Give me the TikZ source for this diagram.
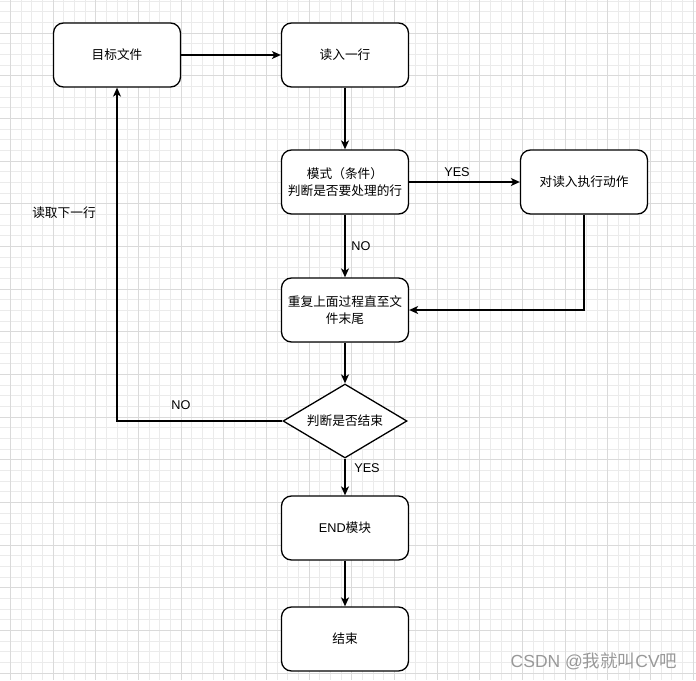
\documentclass[tikz,border=0pt]{standalone}
\usepackage{fontspec}
\setmainfont{Liberation Sans}
\newfontfamily\cjk{Noto Sans CJK SC}
\usetikzlibrary{shapes.geometric,arrows.meta}
\definecolor{gridminor}{HTML}{EBEBEB}
\definecolor{gridmajor}{HTML}{DADADA}
\tikzset{
  box/.style={draw=black, line width=1.3pt, rounded corners=10pt, fill=white,
    minimum width=127pt, minimum height=64pt, inner sep=2pt, align=center,
    font=\cjk\fontsize{12.7}{17}\selectfont},
  decide/.style={draw=black, line width=1.3pt, diamond, fill=white, aspect=1.676,
    minimum width=124pt, minimum height=74pt, inner sep=0pt,
    font=\cjk\fontsize{12.7}{17}\selectfont},
  conn/.style={line width=1.3pt, -{Stealth[length=9pt,width=8pt,inset=2.5pt]}},
  lbl/.style={inner sep=0pt, font=\fontsize{12.7}{15}\selectfont},
  cjklbl/.style={inner sep=0pt, font=\cjk\fontsize{12.7}{15}\selectfont},
}
\begin{document}
\begin{tikzpicture}[x=1pt,y=-1pt]
\useasboundingbox (0,0) rectangle (696,680);
\fill[white] (0,0) rectangle (696,680);
% grid
\foreach \i in {-4,...,61} {
  \draw[gridminor, line width=0.8pt] ({53+10.6667*\i},0) -- ({53+10.6667*\i},680);
}
\foreach \j in {-3,...,61} {
  \draw[gridminor, line width=0.8pt] (0,{33+10.6667*\j}) -- (696,{33+10.6667*\j});
}
\foreach \i in {-1,...,15} {
  \draw[gridmajor, line width=0.9pt] ({53+42.6667*\i},0) -- ({53+42.6667*\i},680);
}
\foreach \j in {-1,...,16} {
  \draw[gridmajor, line width=0.9pt] (0,{33+42.6667*\j}) -- (696,{33+42.6667*\j});
}
% nodes
\node[box] (f) at (117,55) {目标文件};
\node[box] (r) at (345,55) {读入一行};
\node[box] (m) at (345,182) {模式（条件）\\判断是否要处理的行};
\node[box] (a) at (584,182) {对读入执行动作};
\node[box] (rep) at (345,310) {重复上面过程直至文\\件末尾};
\node[decide] (d) at (345,421) {判断是否结束};
\node[box] (e) at (345,528) {{\rmfamily END}模块};
\node[box] (end) at (345,639) {结束};
% connectors
\draw[conn] (f) -- (r);
\draw[conn] (r) -- (m);
\draw[conn] (m) -- (a);
\draw[conn] (m) -- (rep);
\draw[conn] (a.south) |- (rep.east);
\draw[conn] (rep) -- (d);
\draw[conn] (d.west) -| (f.south);
\draw[conn] (d) -- (e);
\draw[conn] (e) -- (end);
% labels
\node[lbl] (yes1) at (457,172) {YES};
\node[lbl] (no1) at (361,246) {NO};
\node[lbl] (no2) at (181,405) {NO};
\node[lbl] (yes2) at (367,468) {YES};
\node[cjklbl] (next) at (64,213) {读取下一行};
% watermark
\node[inner sep=0pt, text=black!40, font=\fontsize{17.5}{19}\selectfont] (wm) at (594,661)
  {CSDN @{\cjk 我就叫}CV{\cjk 吧}};
\end{tikzpicture}
\end{document}
